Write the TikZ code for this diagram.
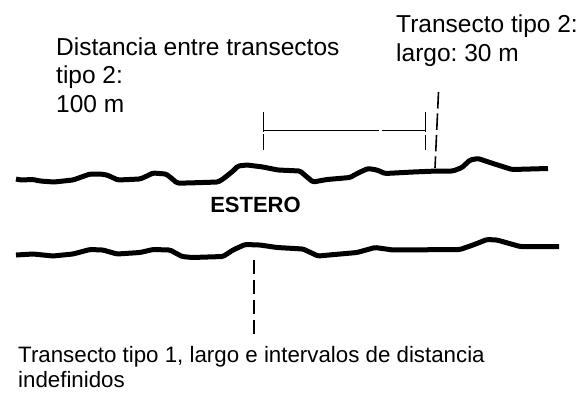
\documentclass[tikz,border=0pt]{standalone}
\usepackage{fontspec}
\setmainfont{Liberation Sans}
\usetikzlibrary{calc}
\frenchspacing

\begin{document}
\begin{tikzpicture}[x=1pt,y=-1pt,
  shore/.style={line width=5pt,line join=round,rounded corners=1.5pt},
  lbl/.style={anchor=base west,align=left,inner sep=0pt,font=\fontsize{24.5pt}{28.3pt}\selectfont},
  small/.style={anchor=base west,align=left,inner sep=0pt,font=\fontsize{22.3pt}{24.5pt}\selectfont},
  dimline/.style={line width=1.3pt},
  transect/.style={line width=1.6pt}
]
  \useasboundingbox (0,0) rectangle (583,392);

  % orillas del estero
  \draw[shore] (16,179) -- (21,180) -- (33,179.5) -- (40,181) -- (54,182) -- (73,180) -- (90,174)
    -- (100,174) -- (107,175) -- (118,180) -- (140,179) -- (147,176) -- (153,173) -- (166,174)
    -- (170,177) -- (177,183) -- (187,183) -- (218,182) -- (223,179) -- (233,171) -- (238,166)
    -- (247,165) -- (263,167) -- (278,170) -- (300,171) -- (307,177) -- (313,182) -- (327,179.5)
    -- (350,177.5) -- (358,173) -- (368,168.5) -- (377,170) -- (385,173.5) -- (413,172)
    -- (437,171) -- (453,171) -- (462,167.5) -- (470,160) -- (478,158.5) -- (493,163.5)
    -- (512,169.5) -- (548,168.5);
  \draw[shore] (16,255) -- (33,254) -- (53,256) -- (73,254) -- (90,249.5) -- (103,250)
    -- (117,254) -- (140,252.5) -- (153,249.5) -- (170,250) -- (182,256.5) -- (192,257.5)
    -- (223,256.5) -- (233,250) -- (245,244.5) -- (260,245) -- (277,247.5) -- (303,249)
    -- (318,256) -- (357,252.5) -- (375,247.5) -- (393,250) -- (460,249.5) -- (473,245)
    -- (487,239.5) -- (497,240) -- (520,246.5) -- (559,246.5);

  % (base = ultima linea)
  \node[lbl](dist) at (56,112) {Distancia entre transectos\\tipo 2:\\100 m};
  \node[lbl](largo) at (396,61) {Transecto tipo 2:\\largo: 30 m};
  \node[anchor=base,inner sep=0pt,font=\fontsize{22pt}{25pt}\selectfont\bfseries](estero) at (255.5,212) {ESTERO};
  \node[small](tipo1) at (18,387) {Transecto tipo 1, largo e intervalos de distancia\\indefinidos};

  % distancia entre transectos
  \coordinate (dl) at (263.3,130.7);
  \coordinate (dr) at (425.7,130.7);
  \draw[dimline,dash pattern=on 116pt off 2.4pt] (dl) -- (dr);
  \draw[dimline,dash pattern=on 20pt off 2.3pt] ([yshift=19pt]dl) -- ([yshift=-19.3pt]dl);
  \draw[dimline,dash pattern=on 20pt off 2.3pt] ([yshift=18.4pt]dr) -- ([yshift=-19.3pt]dr);

  % transectos
  \coordinate (t2top) at (438.5,92);
  \coordinate (t2bot) at (435,168);
  \draw[transect,dash pattern=on 16.5pt off 5pt] (t2top) -- (t2bot);
  \coordinate (t1top) at (254,260);
  \coordinate (t1bot) at (254,333.5);
  \draw[transect,dash pattern=on 13.5pt off 6.5pt] (t1top) -- (t1bot);
\end{tikzpicture}
\end{document}
